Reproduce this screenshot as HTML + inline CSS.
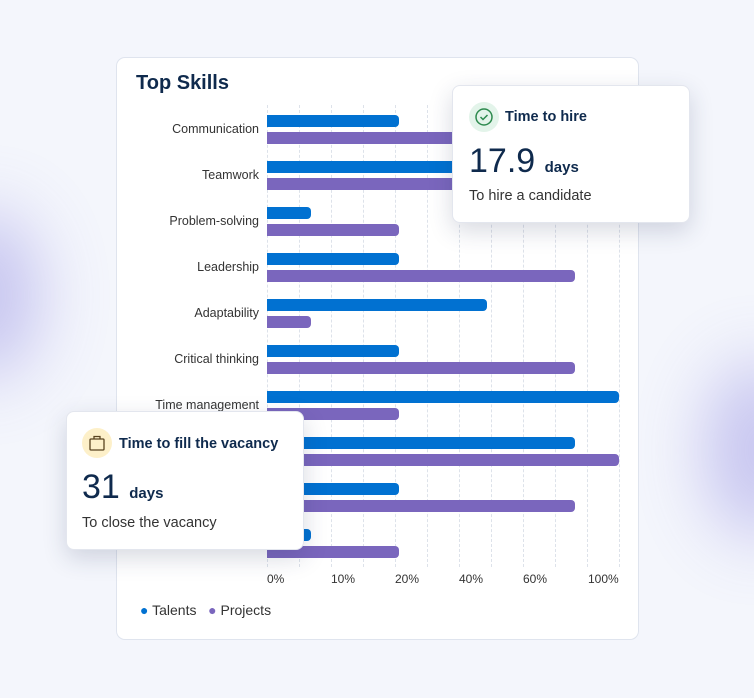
<!DOCTYPE html>
<html><head><style>
body{margin:0;width:754px;height:698px;background:#f4f6fc;position:relative;overflow:hidden;font-family:"Liberation Sans",sans-serif;}
.blob{position:absolute;border-radius:50%;filter:blur(35px);}
.card{position:absolute;left:116px;top:57px;width:521px;height:581px;background:#fff;border:1px solid #dfe4ee;border-radius:9px;}
.title{position:absolute;left:136px;top:72px;font-size:20px;font-weight:bold;color:#0f2a4d;}
.lbl{position:absolute;right:495px;font-size:12.5px;color:#333;text-align:right;white-space:nowrap;}
.bar{position:absolute;left:267px;height:12px;border-radius:0 4px 4px 0;}
.t{background:#0171d1;}.p{background:#7a66bd;}
.grid{position:absolute;top:105px;height:462px;border-left:1px dashed #dde2ea;}
.tick{position:absolute;top:572px;font-size:12px;color:#333;}
.pop{position:absolute;background:#fff;border:1px solid #e3e6ee;border-radius:8px;box-shadow:0 8px 24px rgba(40,50,90,.18);}
.pop h4{margin:0;position:absolute;font-size:14.5px;color:#0f2a4d;}
.big{position:absolute;font-size:34px;color:#0f2a4d;}
.big span{font-size:15px;font-weight:bold;}
.sub{position:absolute;font-size:14.5px;color:#333;}
</style></head><body>
<div class="blob" style="left:-70px;top:210px;width:110px;height:170px;background:#8c86e0;opacity:.45"></div>
<div class="blob" style="left:705px;top:360px;width:110px;height:180px;background:#8c86e0;opacity:.45"></div>
<div class="card"></div>
<div class="title">Top Skills</div>
<div class="grid" style="left:267px"></div><div class="grid" style="left:299px"></div><div class="grid" style="left:331px"></div><div class="grid" style="left:363px"></div><div class="grid" style="left:395px"></div><div class="grid" style="left:427px"></div><div class="grid" style="left:459px"></div><div class="grid" style="left:491px"></div><div class="grid" style="left:523px"></div><div class="grid" style="left:555px"></div><div class="grid" style="left:587px"></div><div class="grid" style="left:619px"></div>

<div class="lbl" style="top:122px">Communication</div>
<div class="bar t" style="top:115px;width:132px"></div><div class="bar p" style="top:132px;width:308px"></div>
<div class="lbl" style="top:168px">Teamwork</div>
<div class="bar t" style="top:161px;width:308px"></div><div class="bar p" style="top:178px;width:308px"></div>
<div class="lbl" style="top:214px">Problem-solving</div>
<div class="bar t" style="top:207px;width:44px"></div><div class="bar p" style="top:224px;width:132px"></div>
<div class="lbl" style="top:260px">Leadership</div>
<div class="bar t" style="top:253px;width:132px"></div><div class="bar p" style="top:270px;width:308px"></div>
<div class="lbl" style="top:306px">Adaptability</div>
<div class="bar t" style="top:299px;width:220px"></div><div class="bar p" style="top:316px;width:44px"></div>
<div class="lbl" style="top:352px">Critical thinking</div>
<div class="bar t" style="top:345px;width:132px"></div><div class="bar p" style="top:362px;width:308px"></div>
<div class="lbl" style="top:398px">Time management</div>
<div class="bar t" style="top:391px;width:352px"></div><div class="bar p" style="top:408px;width:132px"></div>
<div class="bar t" style="top:437px;width:308px"></div><div class="bar p" style="top:454px;width:352px"></div>
<div class="bar t" style="top:483px;width:132px"></div><div class="bar p" style="top:500px;width:308px"></div>
<div class="bar t" style="top:529px;width:44px"></div><div class="bar p" style="top:546px;width:132px"></div>

<div class="tick" style="left:267px">0%</div><div class="tick" style="left:331px">10%</div><div class="tick" style="left:395px">20%</div><div class="tick" style="left:459px">40%</div><div class="tick" style="left:523px">60%</div><div class="tick" style="left:588px">100%</div>

<div style="position:absolute;left:140px;top:602px;font-size:14px;color:#333"><span style="color:#0171d1">●</span> Talents &nbsp;&nbsp;<span style="color:#7a66bd">●</span> Projects</div>

<div class="pop" style="left:452px;top:85px;width:236px;height:136px">
 <div style="position:absolute;left:16px;top:16px;width:30px;height:30px;border-radius:50%;background:#e3f4ea"><svg width="30" height="30"><circle cx="15" cy="15" r="8" fill="none" stroke="#2d8a4e" stroke-width="1.5"/><path d="M11.5 15l2.5 2.5 4.5-4.5" fill="none" stroke="#2d8a4e" stroke-width="1.5"/></svg></div>
 <h4 style="left:52px;top:23px">Time to hire</h4>
 <div class="big" style="left:16px;top:56px">17.9 <span>days</span></div>
 <div class="sub" style="left:16px;top:102px">To hire a candidate</div>
</div>
<div class="pop" style="left:66px;top:411px;width:236px;height:137px">
 <div style="position:absolute;left:15px;top:16px;width:30px;height:30px;border-radius:50%;background:#fdf0c9"><svg width="30" height="30"><rect x="8" y="11" width="14" height="11" rx="1" fill="none" stroke="#5a4420" stroke-width="1.3"/><path d="M12 11V8.5h6V11" fill="none" stroke="#5a4420" stroke-width="1.3"/></svg></div>
 <h4 style="left:52px;top:24px">Time to fill the vacancy</h4>
 <div class="big" style="left:15px;top:56px">31 <span>days</span></div>
 <div class="sub" style="left:15px;top:103px">To close the vacancy</div>
</div>
</body></html>
